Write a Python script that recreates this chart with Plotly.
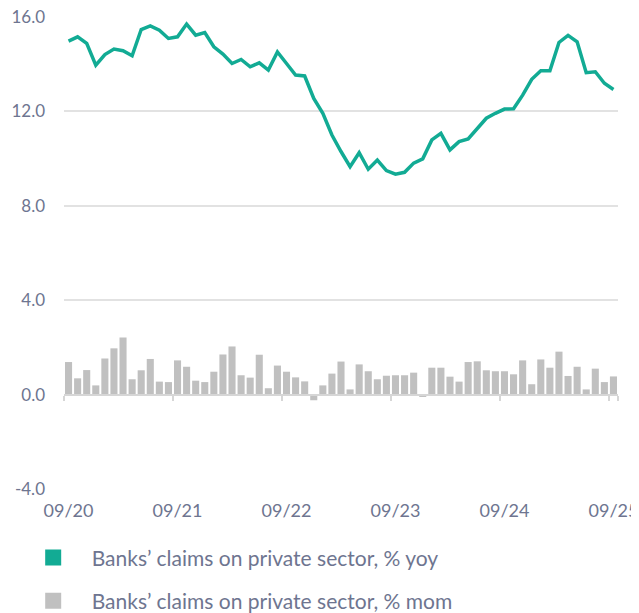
import plotly.graph_objects as go

months = [f"{m:02d}/{y % 100:02d}" for y in range(2020, 2026) for m in range(1, 13)]
months = months[months.index("09/20"):months.index("09/25") + 1]

yoy = [14.98, 15.16, 14.88, 13.96, 14.41, 14.64, 14.57, 14.36, 15.47, 15.62, 15.44, 15.09,
       15.16, 15.70, 15.23, 15.34, 14.74, 14.43, 14.03, 14.20, 13.89, 14.06, 13.75, 14.52,
       14.03, 13.54, 13.50, 12.55, 11.92, 11.00, 10.30, 9.66, 10.25, 9.55, 9.94, 9.49,
       9.34, 9.42, 9.81, 9.99, 10.79, 11.07, 10.37, 10.72, 10.83, 11.29, 11.71, 11.92,
       12.10, 12.11, 12.69, 13.36, 13.72, 13.72, 14.92, 15.22, 14.95, 13.64, 13.68, 13.19, 12.93]

mom = [1.38, 0.69, 1.04, 0.39, 1.53, 1.96, 2.42, 0.65, 1.03, 1.51, 0.55, 0.53,
       1.45, 1.18, 0.59, 0.53, 0.97, 1.70, 2.04, 0.82, 0.72, 1.69, 0.27, 1.23,
       0.97, 0.73, 0.56, -0.24, 0.39, 0.89, 1.40, 0.22, 1.28, 0.99, 0.65, 0.80,
       0.82, 0.82, 0.93, -0.10, 1.14, 1.14, 0.76, 0.55, 1.38, 1.41, 1.03, 0.99,
       0.99, 0.86, 1.45, 0.44, 1.49, 1.14, 1.82, 0.79, 1.18, 0.22, 1.10, 0.53, 0.77]

tick_labels = ["09/20", "09/21", "09/22", "09/23", "09/24", "09/25"]
y_ticks = [16, 12, 8, 4, 0, -4]

name_yoy = "Banks’ claims on private sector, % yoy"
name_mom = "Banks’ claims on private sector, % mom"

GREEN = "#12AB94"
GREY = "#C0C0C0"
TEXT = "#6E7590"
GRID = "#E2E2E2"
FONT = "Lato"

fig = go.Figure()
fig.add_trace(go.Bar(x=months, y=mom, xaxis="x2", yaxis="y", marker_color=GREY,
                     marker_line_width=0, showlegend=False, hoverinfo="skip"))
fig.add_trace(go.Scatter(x=months, y=yoy, xaxis="x", yaxis="y", mode="lines",
                         line=dict(color=GREEN, width=3.5), showlegend=False))
# legend entries
fig.add_trace(go.Scatter(x=[None], y=[None], mode="markers", name=name_yoy,
                         marker=dict(symbol="square", size=18, color=GREEN), legendgroup="a"))
fig.add_trace(go.Scatter(x=[None], y=[None], mode="markers", name=name_mom,
                         marker=dict(symbol="square", size=18, color=GREY), legendgroup="b"))

xr = [-0.5, len(months) - 0.5]
fig.update_layout(
    width=631, height=605,
    margin=dict(l=56, r=21, t=9, b=124, autoexpand=False),
    paper_bgcolor="white", plot_bgcolor="white",
    font=dict(family=FONT, color=TEXT, size=18),
    bargap=0.22,
    xaxis=dict(type="category", categoryorder="array", categoryarray=months, range=xr,
               tickvals=tick_labels, ticktext=tick_labels, showgrid=False, showline=False,
               ticks="", zeroline=False, ticklabelstandoff=9, tickangle=0,
               ticklabeloverflow="allow",
               tickfont=dict(size=18, color=TEXT, family=FONT)),
    xaxis2=dict(type="category", categoryorder="array", categoryarray=months, range=xr,
                overlaying="x", anchor="free", position=0.2, side="bottom",
                tickvals=tick_labels, tickson="boundaries", ticks="outside", ticklen=5,
                tickwidth=1.5, tickcolor="#D6D6D6", showticklabels=False, showgrid=False,
                showline=True, linecolor="#D6D6D6", linewidth=2, zeroline=False),
    yaxis=dict(range=[-4, 16], tickvals=y_ticks, ticktext=[f"{v:.1f}" for v in y_ticks],
               showgrid=True, gridcolor=GRID, gridwidth=1.5, zeroline=False, showline=False,
               ticks="", ticklabelstandoff=18, ticklabeloverflow="allow",
               tickfont=dict(size=17, color=TEXT, family=FONT)),
    legend=dict(xref="container", yref="container", x=0.0106, y=0.125, xanchor="left",
                yanchor="top", font=dict(size=21, color=TEXT, family=FONT),
                itemwidth=67, traceorder="grouped", tracegroupgap=13, bgcolor="rgba(0,0,0,0)"),
)

fig.write_html("out.html")
